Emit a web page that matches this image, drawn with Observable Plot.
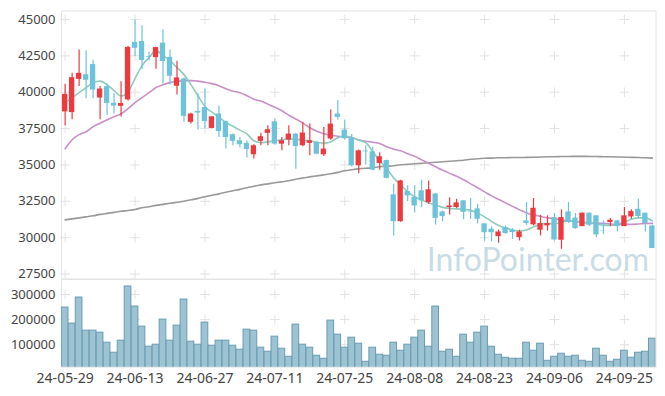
<!DOCTYPE html>
<html>
<head>
<meta charset="utf-8">
<script src="https://cdn.jsdelivr.net/npm/d3@7"></script>
<script src="https://cdn.jsdelivr.net/npm/@observablehq/plot@0.6"></script>
<style>
  html, body { margin: 0; padding: 0; background: #fff; }
  #chart { position: relative; width: 665px; height: 396px; overflow: hidden; }
  #chart svg { display: block; position: absolute; left: 0; overflow: visible; }
</style>
</head>
<body>
<div id="chart"></div>
<script>
const dates = ["24-05-29","24-05-30","24-05-31","24-06-03","24-06-04","24-06-05","24-06-07","24-06-10","24-06-11","24-06-12",
"24-06-13","24-06-14","24-06-17","24-06-18","24-06-19","24-06-20","24-06-21","24-06-24","24-06-25","24-06-26",
"24-06-27","24-06-28","24-07-01","24-07-02","24-07-03","24-07-04","24-07-05","24-07-08","24-07-09","24-07-10",
"24-07-11","24-07-12","24-07-15","24-07-16","24-07-17","24-07-18","24-07-19","24-07-22","24-07-23","24-07-24",
"24-07-25","24-07-26","24-07-29","24-07-30","24-07-31","24-08-01","24-08-02","24-08-05","24-08-06","24-08-07",
"24-08-08","24-08-09","24-08-12","24-08-13","24-08-14","24-08-16","24-08-19","24-08-20","24-08-21","24-08-22",
"24-08-23","24-08-26","24-08-27","24-08-28","24-08-29","24-08-30","24-09-02","24-09-03","24-09-04","24-09-05",
"24-09-06","24-09-09","24-09-10","24-09-11","24-09-12","24-09-13","24-09-19","24-09-20","24-09-23","24-09-24",
"24-09-25","24-09-26","24-09-27","24-09-30","24-10-02"];

const open = [38650,38600,40880,41200,41900,39600,40380,39240,39030,39470,
43430,43490,42450,42380,43370,42400,40410,40910,37930,38680,
38950,37510,38500,37970,37080,36660,36480,35700,36620,37170,
37970,36430,36710,37120,36320,36480,36550,35700,36780,38500,
37400,36830,34940,35950,35900,35100,35300,32940,31100,33170,
32760,33220,32410,33000,31770,32070,32070,32530,31790,31980,
30950,30580,30070,30690,30510,30000,31150,30880,30510,30810,
31380,29820,31770,31340,30760,31680,31500,30480,31040,31150,
30760,31430,31950,31680,30800];

const high = [40550,41300,42900,42850,42200,40400,40550,39900,40720,43150,
44950,44570,42750,43100,44290,42910,42130,40980,38550,39880,
40220,38320,39050,38000,37130,36890,36660,36390,37170,37700,
38160,36890,37700,37150,37930,37810,36580,37580,38780,39420,
38090,37100,36030,36320,36200,35830,35330,33680,33950,33560,
33560,33950,33900,33030,31840,32750,32640,32530,32700,32300,
30970,30740,30520,30810,30620,30510,32420,32690,31540,31500,
31660,31910,32420,31660,31700,31700,31500,31150,31310,31200,
32070,31910,32640,31680,30850];

const low = [37700,38100,40400,39550,39550,38100,38400,38500,38300,39400,
42450,41550,42150,41580,40570,40500,39810,37930,37810,37400,
37500,37470,36890,36090,36320,36160,35470,35400,36320,36320,
36360,35970,36320,34710,36250,35630,35700,35580,36700,38090,
36700,34850,34390,34990,34600,34630,34030,30120,31050,32480,
31700,32050,32300,30870,31100,31560,32000,31230,31260,30950,
29770,29710,29620,30230,29890,29770,30850,30810,30120,30460,
29770,29200,30970,30580,30760,30760,30000,30230,30760,30390,
30760,31270,31380,30390,29250];

const close = [39850,41000,41300,40820,40150,40220,39230,39050,39220,43080,
43020,42180,42400,43070,42110,41100,40980,38340,38500,38570,
37990,38310,37300,36890,36620,36390,36060,36320,36940,37420,
36430,36660,37120,36270,37190,36660,35740,36090,37810,38270,
36800,34940,35970,35900,34640,35560,34080,31100,33900,32870,
32180,32530,33290,31320,31450,32180,32390,31740,31760,31260,
30340,30340,30390,30280,30350,30390,30970,32020,30970,30970,
29840,31380,31040,30620,31680,30850,30190,30450,31200,30760,
31500,31790,31450,30970,29250];

const volume = [248000,184000,288000,156000,156000,148000,108000,68000,116000,332000,
252000,172000,92000,100000,200000,116000,176000,280000,112000,100000,
188000,96000,116000,116000,96000,80000,160000,156000,88000,72000,
132000,84000,52000,180000,100000,88000,56000,44000,196000,140000,
88000,128000,104000,32000,88000,60000,56000,108000,76000,100000,
128000,156000,92000,252000,72000,80000,52000,140000,108000,148000,
172000,92000,60000,48000,44000,44000,108000,76000,104000,36000,
52000,64000,52000,56000,36000,32000,84000,56000,32000,40000,
76000,48000,68000,72000,124000];

const ma5 = [39280,39630,39970,40320,40660,40760,40520,40110,39740,40040,
40940,41830,42380,42860,42520,42180,41690,41210,40520,39760,
39010,38630,38280,37920,37660,37390,37130,36660,36530,36590,
36660,36730,36780,36770,36710,36660,36560,36490,36590,36870,
36970,36890,36700,36530,35910,35290,34730,34110,33630,33150,
32810,32600,32390,32250,32080,32010,31980,31940,31880,31670,
31430,31120,30840,30670,30530,30460,30530,30740,30910,30980,
30940,31080,31150,31120,31050,31010,30940,30860,30840,30910,
31080,31260,31360,31360,31150];

const ma20 = [36110,36730,37080,37280,37630,37870,38110,38320,38520,38870,
39280,39630,39970,40320,40520,40660,40750,40800,40800,40760,
40690,40590,40450,40230,40070,39970,39760,39520,39390,39180,
38970,38730,38420,38160,37870,37560,37320,37150,37040,36970,
36940,36890,36730,36630,36560,36480,36250,36080,35970,35770,
35600,35350,35110,34870,34630,34420,34220,33980,33700,33430,
33150,32870,32630,32390,32150,31910,31700,31570,31460,31360,
31290,31220,31150,31120,31050,31010,31010,30980,30940,30920,
30910,30910,30940,30970,30980];

const ma120 = [31220,31290,31360,31430,31500,31600,31670,31740,31810,31870,
31940,32050,32120,32220,32290,32360,32430,32500,32600,32700,
32810,32910,33010,33120,33220,33320,33430,33530,33630,33700,
33770,33840,33910,34010,34110,34180,34250,34320,34390,34490,
34600,34670,34730,34770,34800,34870,34910,34940,35010,35040,
35080,35110,35150,35180,35220,35250,35290,35320,35390,35420,
35460,35470,35490,35490,35510,35510,35520,35530,35540,35560,
35560,35580,35580,35590,35590,35580,35580,35560,35560,35550,
35530,35520,35510,35490,35470];

const priceTicks = [27500,30000,32500,35000,37500,40000,42500,45000];
const volumeTicks = [100000,200000,300000];
const dateTicks = ["24-05-29","24-06-13","24-06-27","24-07-11","24-07-25","24-08-08","24-08-23","24-09-06","24-09-25"];
const watermark = "InfoPointer.com";

const rows = dates.map((d, i) => ({
  date: d, open: open[i], high: high[i], low: low[i], close: close[i],
  volume: volume[i], ma5: ma5[i], ma20: ma20[i], ma120: ma120[i]
}));

const UP = "#ee3a3e", DOWN = "#6cc3da";
const candleColor = d => d.close >= d.open ? UP : DOWN;
const FONT = "'Noto Sans', sans-serif";
const plain = d3.format("d");
const gridPrice = dateTicks.flatMap(d => priceTicks.map(p => ({date: d, v: p})));
const gridVol = dateTicks.flatMap(d => volumeTicks.map(p => ({date: d, v: p})));

const xCommon = {type: "band", domain: dates, padding: 0.04};

const priceChart = Plot.plot({
  width: 665, height: 279,
  marginTop: 10.5, marginBottom: 0.5, marginLeft: 61, marginRight: 9.5,
  style: {fontFamily: FONT, background: "transparent", overflow: "visible"},
  x: {...xCommon, axis: null},
  y: {domain: [27500, 45000], range: [273.5, 19], axis: null},
  marks: [
    Plot.frame({stroke: "#e4e4e4"}),
    Plot.text([watermark], {frameAnchor: "bottom-right", dx: -7, dy: -8, fontSize: 32, fill: "#c9dce6", fontFamily: "Lato, sans-serif"}),
    Plot.dot(gridPrice, {x: "date", y: "v", symbol: "plus", r: 3.2, stroke: "#e2e2e2", strokeWidth: 1}),
    Plot.line(rows, {x: "date", y: "ma120", stroke: "#999999", strokeWidth: 1.6, curve: "monotone-x"}),
    Plot.line(rows, {x: "date", y: "ma20", stroke: "#c98fc6", strokeWidth: 1.6, curve: "monotone-x"}),
    Plot.line(rows, {x: "date", y: "ma5", stroke: "#8ecbbd", strokeWidth: 1.6, curve: "monotone-x"}),
    Plot.ruleX(rows, {x: "date", y1: "low", y2: "high", stroke: candleColor, strokeWidth: 1.2}),
    Plot.barY(rows, {x: "date", y1: "open", y2: "close", fill: candleColor, insetLeft: 0.7, insetRight: 0.7}),
    Plot.axisY(priceTicks, {tickSize: 0, tickPadding: 6, fontSize: 13, fill: "#444", label: null, tickFormat: plain})
  ]
});

const volumeChart = Plot.plot({
  width: 665, height: 117,
  marginTop: 0, marginBottom: 29.3, marginLeft: 61, marginRight: 9.5,
  style: {fontFamily: FONT, background: "#fff"},
  x: {...xCommon, axis: null},
  y: {domain: [0, 300000], range: [90.3, 15], axis: null},
  marks: [
    Plot.frame({stroke: "#e4e4e4"}),
    Plot.dot(gridVol, {x: "date", y: "v", symbol: "plus", r: 3.2, stroke: "#e2e2e2", strokeWidth: 1}),
    Plot.barY(rows, {x: "date", y: "volume", fill: "#9dc2d2", stroke: "#6a9db3", strokeWidth: 1, clip: true}),
    Plot.axisY(volumeTicks, {tickSize: 0, tickPadding: 6, fontSize: 13, fill: "#444", label: null, tickFormat: plain}),
    Plot.axisX(dateTicks, {tickSize: 0, tickPadding: 6, fontSize: 14, fill: "#444", label: null})
  ]
});

volumeChart.style.top = "279px";
priceChart.style.top = "0px";
document.getElementById("chart").append(volumeChart, priceChart);
</script>
</body>
</html>
